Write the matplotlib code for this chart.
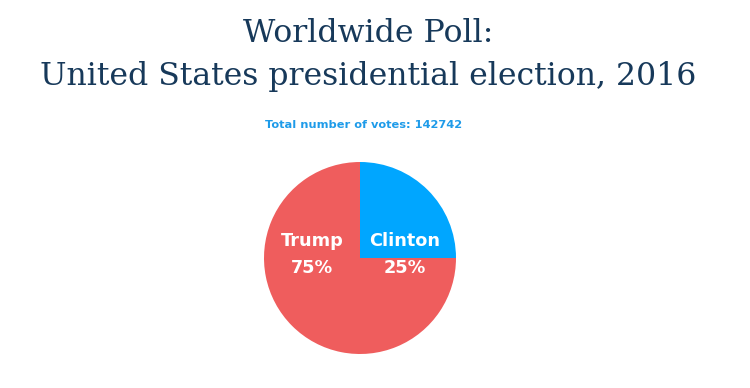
import matplotlib
matplotlib.use("Agg")
import matplotlib.pyplot as plt

title_lines = ["Worldwide Poll:", "United States presidential election, 2016"]
subtitle = "Total number of votes: 142742"
candidates = ["Clinton", "Trump"]
shares = [25, 75]
colors = ["#00a6ff", "#ef5d5d"]

W, H = 750, 388
fig = plt.figure(figsize=(W / 100, H / 100), dpi=100)
fig.patch.set_facecolor("white")

fig.text(368 / W, 1 - 33 / H, title_lines[0], ha="center", va="center",
         family="DejaVu Serif", fontsize=22.7, color="#17395a")
fig.text(368 / W, 1 - 77 / H, title_lines[1], ha="center", va="center",
         family="DejaVu Serif", fontsize=22.7, color="#17395a")
fig.text(364 / W, 1 - 125 / H, subtitle, ha="center", va="center",
         family="DejaVu Sans", fontweight="bold", fontsize=8.2, color="#1e9be9")

cx, cy, r = 360, 258, 96
ax = fig.add_axes([(cx - r) / W, (H - cy - r) / H, 2 * r / W, 2 * r / H])
wedges, _ = ax.pie(shares, colors=colors, startangle=90, counterclock=False,
                   wedgeprops=dict(linewidth=0))
ax.set_xlim(-1, 1)
ax.set_ylim(-1, 1)
ax.set_aspect("equal")
ax.axis("off")

label_pos = {"Clinton": (405, 241, 268), "Trump": (312, 241, 268)}
for name, val in zip(candidates, shares):
    x, y1, y2 = label_pos[name]
    ax.text((x - cx) / r, (cy - y1) / r, name, ha="center", va="center",
            family="DejaVu Sans", fontweight="bold", fontsize=12.7, color="white")
    ax.text((x - cx) / r, (cy - y2) / r, f"{val}%", ha="center", va="center",
            family="DejaVu Sans", fontweight="bold", fontsize=12.7, color="white")

fig.savefig("out.png", dpi=100, facecolor="white")
